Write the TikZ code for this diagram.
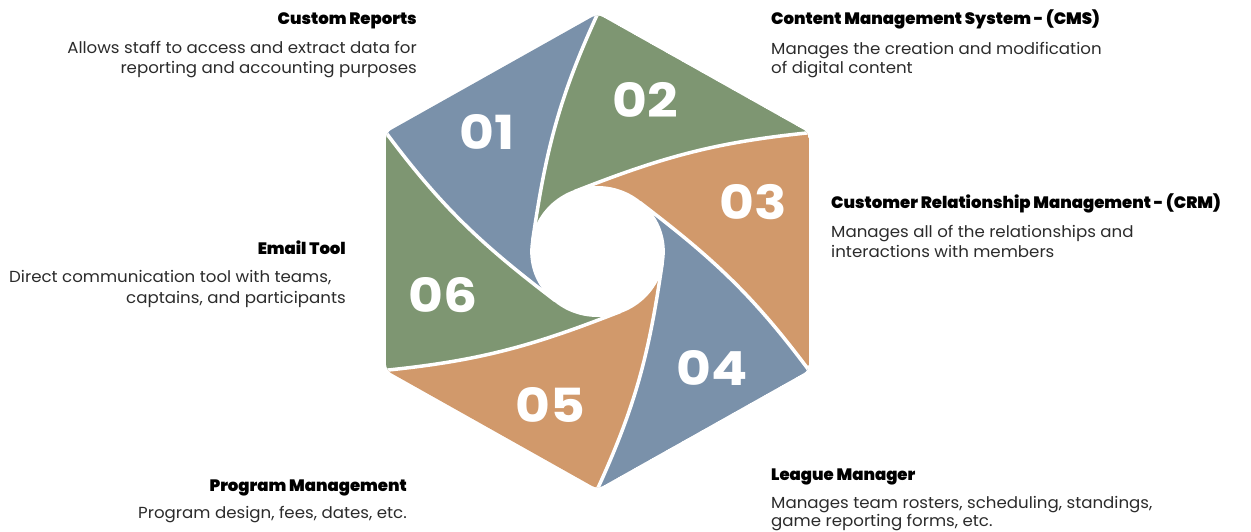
\documentclass[tikz,border=0pt]{standalone}
\usepackage{fontspec}
\setmainfont{Poppins}[FakeStretch=1.04]
\newfontfamily\numfont{Poppins}[FakeStretch=1.14]
\IfFontExistsTF{Poppins Black}{\newfontfamily\heavyfont{Poppins Black}[FakeStretch=1.0]}{%
  \IfFontExistsTF{Poppins ExtraBold}{\newfontfamily\heavyfont{Poppins ExtraBold}[FakeStretch=1.06]}{\def\heavyfont{\bfseries}}}
\definecolor{cblue}{HTML}{7A91AA}
\definecolor{cgreen}{HTML}{7E9672}
\definecolor{corange}{HTML}{D1996B}
\definecolor{ctext}{HTML}{2B2B2B}
\begin{document}
\begin{tikzpicture}[x=1pt,y=1pt,
  titletxt/.style={font=\heavyfont\fontsize{16.5}{18}\selectfont, text=black, inner sep=0},
  bodytxt/.style={font=\fontsize{16}{18}\selectfont, text=ctext, inner sep=0},
  numtxt/.style={font=\numfont\bfseries\fontsize{47}{47}\selectfont, text=white, inner sep=0},
  divider/.style={white, line width=3.5, line cap=round}]
\useasboundingbox (0,0) rectangle (1251,531);
\begin{scope}[shift={(597.5,279.5)}, xscale=1.028]
  \def\R{237.5}\def\r{64}
  \begin{scope}
    \clip[rounded corners=6] (90:\R) -- (150:\R) -- (210:\R) -- (270:\R) -- (330:\R) -- (30:\R) -- cycle;
    \foreach \a/\c in {90/cblue, 30/cgreen, -30/corange, -90/cblue, 210/corange, 150/cgreen} {
      \pgfmathsetmacro\b{\a+60}
      \pgfmathsetmacro\bo{\b+156}
      \pgfmathsetmacro\bi{\b-8}
      \pgfmathsetmacro\bc{\b+80}
      \pgfmathsetmacro\ac{\a+80}
      \pgfmathsetmacro\ao{\a-8}
      \pgfmathsetmacro\ai{\a+156}
      \fill[\c] (\a:\R) -- (\b:\R) to[out=\bo, in=\bi] (\bc:\r)
        arc[start angle=\bc, end angle=\ac, radius=\r]
        to[out=\ao, in=\ai] (\a:\R) -- cycle;
    }
    \foreach \t in {90,150,210,270,330,390} {
      \pgfmathsetmacro\to{\t+156}
      \pgfmathsetmacro\ti{\t-8}
      \pgfmathsetmacro\tc{\t+80}
      \draw[divider] (\t:\R) to[out=\to, in=\ti] (\tc:\r);
    }
    \fill[white] (0,0) circle[radius=\r+1.5];
  \end{scope}
\end{scope}
\node[numtxt] (n1) at (487,399) {01};
\node[numtxt] (n2) at (645,431) {02};
\node[numtxt] (n3) at (753,329) {03};
\node[numtxt] (n4) at (712,163) {04};
\node[numtxt] (n5) at (550,126) {05};
\node[numtxt] (n6) at (443,236) {06};
\node[titletxt, anchor=base east] (t1) at (417,506) {Custom Reports};
\node[bodytxt, anchor=base east] (d1a) at (417,477) {Allows staff to access and extract data for};
\node[bodytxt, anchor=base east] (d1b) at (417,457) {reporting and accounting purposes};
\node[titletxt, anchor=base west] (t2) at (771,506) {Content Management System - (CMS)};
\node[bodytxt, anchor=base west] (d2a) at (771,476) {Manages the creation and modification};
\node[bodytxt, anchor=base west] (d2b) at (771,457) {of digital content};
\node[titletxt, anchor=base west] (t3) at (831,322) {Customer Relationship Management - (CRM)};
\node[bodytxt, anchor=base west] (d3a) at (831,293) {Manages all of the relationships and};
\node[bodytxt, anchor=base west] (d3b) at (831,273) {interactions with members};
\node[titletxt, anchor=base east] (t6) at (346,276) {Email Tool};
\node[bodytxt, anchor=base west] (d6a) at (9,248) {Direct communication tool with teams,};
\node[bodytxt, anchor=base east] (d6b) at (346,228) {captains, and participants};
\node[titletxt, anchor=base west] (t4) at (771,51) {League Manager};
\node[bodytxt, anchor=base west] (d4a) at (771,23) {Manages team rosters, scheduling, standings,};
\node[bodytxt, anchor=base west] (d4b) at (771,5) {game reporting forms, etc.};
\node[titletxt, anchor=base east] (t5) at (407,40) {Program Management};
\node[bodytxt, anchor=base east] (d5a) at (407,13) {Program design, fees, dates, etc.};
\end{tikzpicture}
\end{document}
